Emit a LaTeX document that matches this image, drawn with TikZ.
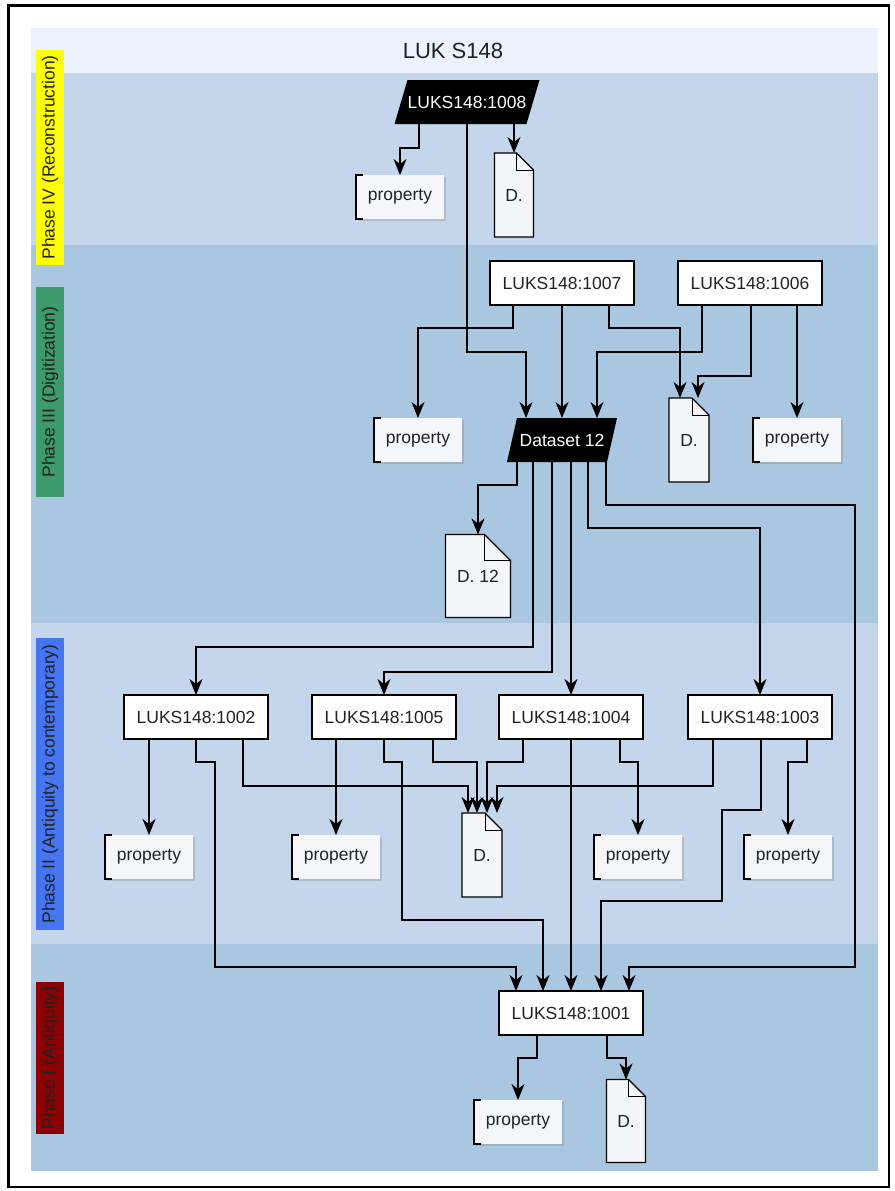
\documentclass[tikz,border=0pt]{standalone}
\usepackage{fontspec}
\setmainfont{Liberation Sans}
\usetikzlibrary{arrows.meta,calc,shadows}
\pgfdeclarelayer{lanes}
\pgfdeclarelayer{shapes}
\pgfsetlayers{lanes,shapes,main}
\definecolor{laneA}{HTML}{C3D6EB}
\definecolor{laneB}{HTML}{AAC7E2}
\definecolor{titleband}{HTML}{EBF2FB}
\definecolor{propfill}{HTML}{F4F6F9}
\definecolor{docfill}{HTML}{F3F5F8}
\definecolor{phYel}{HTML}{FFFF00}
\definecolor{phGrn}{HTML}{3C9A6C}
\definecolor{phBlu}{HTML}{4575F0}
\definecolor{phRed}{HTML}{8B0000}
\definecolor{txt}{HTML}{222222}
\newcommand\nfont{\fontsize{17.5}{20}\selectfont}
\newcommand\docshape[2]{%
  \fill[black,opacity=.18,shift={(3,3)}] (#1.north west) -- ($(#1.north east)+(-#2,0)$) -- ($(#1.north east)+(0,#2)$) -- (#1.south east) -- (#1.south west) -- cycle;
  \filldraw[fill=docfill,draw=black,line width=1.3pt] (#1.north west) -- ($(#1.north east)+(-#2,0)$) -- ($(#1.north east)+(0,#2)$) -- (#1.south east) -- (#1.south west) -- cycle;
  \draw[line width=1pt] ($(#1.north east)+(-#2,0)$) -- ($(#1.north east)+(-#2,#2)$) -- ($(#1.north east)+(0,#2)$);}
\newcommand\paral[2]{%
  \fill[black] ($(#1.north west)+(#2,0)$) -- ($(#1.north east)+(#2,0)$) -- ($(#1.south east)+(-#2,0)$) -- ($(#1.south west)+(-#2,0)$) -- cycle;}
\newcommand\bracketon[1]{%
  \draw[line width=1.3pt] ($(#1.north west)+(7,0)$) -- (#1.north west) -- (#1.south west) -- ($(#1.south west)+(7,0)$);}
\begin{document}
\begin{tikzpicture}[x=1pt,y=-1pt,
  ent/.style={draw=black,line width=1.3pt,fill=white,minimum width=144,minimum height=44,inner sep=0,outer sep=0,font=\nfont,text=txt},
  para/.style={minimum height=44,inner sep=0,outer sep=0,font=\nfont,text=white},
  prop/.style={fill=propfill,minimum width=88,minimum height=44,inner sep=0,outer sep=0,font=\nfont,text=txt,
     drop shadow={shadow xshift=2pt,shadow yshift=-2pt,opacity=0.3}},
  doc/.style={inner sep=0,outer sep=0,font=\nfont,text=txt},
  arr/.style={line width=1.6pt,-{Stealth[length=16pt,width=13pt,inset=5pt]}},
  phase/.style={rotate=90,minimum height=28,inner sep=0,font=\nfont,text=txt},
]
\useasboundingbox (0,0) rectangle (894,1191);
% lanes
\begin{pgfonlayer}{lanes}
\fill[white] (0,0) rectangle (894,1191);
\draw[line width=2.5pt] (8.5,5.5) rectangle (889,1187);
\fill[titleband] (31,28) rectangle (878,73);
\fill[laneA] (31,73) rectangle (878,245);
\fill[laneB] (31,245) rectangle (878,623);
\fill[laneA] (31,623) rectangle (878,944);
\fill[laneB] (31,944) rectangle (878,1171);
\end{pgfonlayer}
\node[font=\fontsize{22}{24}\selectfont,text=txt] (title) at (453,51) {LUK S148};
\node[phase,fill=phYel,minimum width=215] (ph4) at (50,157.5) {Phase IV (Reconstruction)};
\node[phase,fill=phGrn,minimum width=210] (ph3) at (50,392) {Phase III (Digitization)};
\node[phase,fill=phBlu,minimum width=292] (ph2) at (50,784) {Phase II (Antiquity to contemporary)};
\node[phase,fill=phRed,minimum width=152] (ph1) at (50,1058) {Phase I (Antiquity)};
% Phase IV
\node[para,minimum width=132] (n1008) at (467,102) {LUKS148:1008};
\node[prop] (pIV) at (400,197) {property};
\node[doc,minimum width=39,minimum height=84] (dIV) at (514,195) {D.};
% Phase III
\node[ent] (n1007) at (562,283) {LUKS148:1007};
\node[ent] (n1006) at (750,283) {LUKS148:1006};
\node[prop] (pIIIa) at (418,440) {property};
\node[para,minimum width=100] (ds12) at (562,440) {Dataset 12};
\node[doc,minimum width=40,minimum height=84] (dIII) at (689,440) {D.};
\node[prop] (pIIIb) at (797,440) {property};
\node[doc,minimum width=65,minimum height=83] (d12) at (478,576) {D. 12};
% Phase II
\node[ent] (n1002) at (196,717) {LUKS148:1002};
\node[ent] (n1005) at (384,717) {LUKS148:1005};
\node[ent] (n1004) at (571,717) {LUKS148:1004};
\node[ent] (n1003) at (760,717) {LUKS148:1003};
\node[prop] (p1) at (149,857) {property};
\node[prop] (p2) at (336,857) {property};
\node[prop] (p3) at (638,857) {property};
\node[prop] (p4) at (788,857) {property};
\node[doc,minimum width=40,minimum height=84] (dII) at (482,855) {D.};
% Phase I
\node[ent] (n1001) at (571,1013) {LUKS148:1001};
\node[prop] (pI) at (518,1122) {property};
\node[doc,minimum width=39,minimum height=83] (dI) at (626,1121) {D.};
% shapes under text
\begin{pgfonlayer}{shapes}
\paral{n1008}{6.5}
\paral{ds12}{5}
\docshape{dIV}{17}
\docshape{dIII}{17}
\docshape{d12}{26}
\docshape{dII}{17}
\docshape{dI}{17}
\end{pgfonlayer}
\foreach \p in {pIV,pIIIa,pIIIb,p1,p2,p3,p4,pI} {\bracketon{\p}}
% Phase IV edges
\draw[arr] ([xshift=-48]n1008.south) -- ++(0,24) -| (pIV.north);
\draw[arr] ([xshift=47]n1008.south) -- (dIV.north);
\draw[arr] (n1008.south) -- ++(0,228) -| ([xshift=-36]ds12.north);
% Phase III edges
\draw[arr] ([xshift=-49]n1007.south) -- ++(0,23) -| (pIIIa.north);
\draw[arr] (n1007.south) -- (ds12.north);
\draw[arr] ([xshift=47]n1007.south) -- ++(0,23) -| ([xshift=-9]dIII.north);
\draw[arr] ([xshift=-48]n1006.south) -- ++(0,47) -| ([xshift=35]ds12.north);
\draw[arr] ([xshift=1]n1006.south) -- ++(0,71) -| ([xshift=9]dIII.north);
\draw[arr] ([xshift=47]n1006.south) -- (pIIIb.north);
% Dataset 12 edges
\draw[arr] ([xshift=-45]ds12.south) -- ++(0,23) -| (d12.north);
\draw[arr] ([xshift=-29]ds12.south) -- ++(0,185) -| (n1002.north);
\draw[arr] ([xshift=-10]ds12.south) -- ++(0,210) -| (n1005.north);
\draw[arr] ([xshift=9]ds12.south) -- (n1004.north);
\draw[arr] ([xshift=26]ds12.south) -- ++(0,66) -| (n1003.north);
\draw[arr] ([xshift=44]ds12.south) -- ++(0,43) -- ++(249,0) -- ++(0,462) -| ([xshift=58]n1001.north);
% Phase II edges
\draw[arr] ([xshift=-47]n1002.south) -- (p1.north);
\draw[arr] ([xshift=47]n1002.south) -- ++(0,47) -| ([xshift=-14]dII.north);
\draw[arr] (n1002.south) -- ++(0,23) -- ++(19,0) -- ++(0,205) -| ([xshift=-55]n1001.north);
\draw[arr] ([xshift=-48]n1005.south) -- (p2.north);
\draw[arr] ([xshift=49]n1005.south) -- ++(0,23) -| ([xshift=-5]dII.north);
\draw[arr] (n1005.south) -- ++(0,23) -- ++(18,0) -- ++(0,158) -| ([xshift=-28]n1001.north);
\draw[arr] ([xshift=-48]n1004.south) -- ++(0,23) -| ([xshift=5]dII.north);
\draw[arr] (n1004.south) -- (n1001.north);
\draw[arr] ([xshift=49]n1004.south) -- ++(0,23) -| (p3.north);
\draw[arr] ([xshift=-47]n1003.south) -- ++(0,47) -| ([xshift=15]dII.north);
\draw[arr] ([xshift=1]n1003.south) -- ++(0,71) -- ++(-39,0) -- ++(0,91) -| ([xshift=30]n1001.north);
\draw[arr] ([xshift=47]n1003.south) -- ++(0,23) -| (p4.north);
% Phase I edges
\draw[arr] ([xshift=-34]n1001.south) -- ++(0,23) -| (pI.north);
\draw[arr] ([xshift=36]n1001.south) -- ++(0,23) -| (dI.north);
\end{tikzpicture}
\end{document}
